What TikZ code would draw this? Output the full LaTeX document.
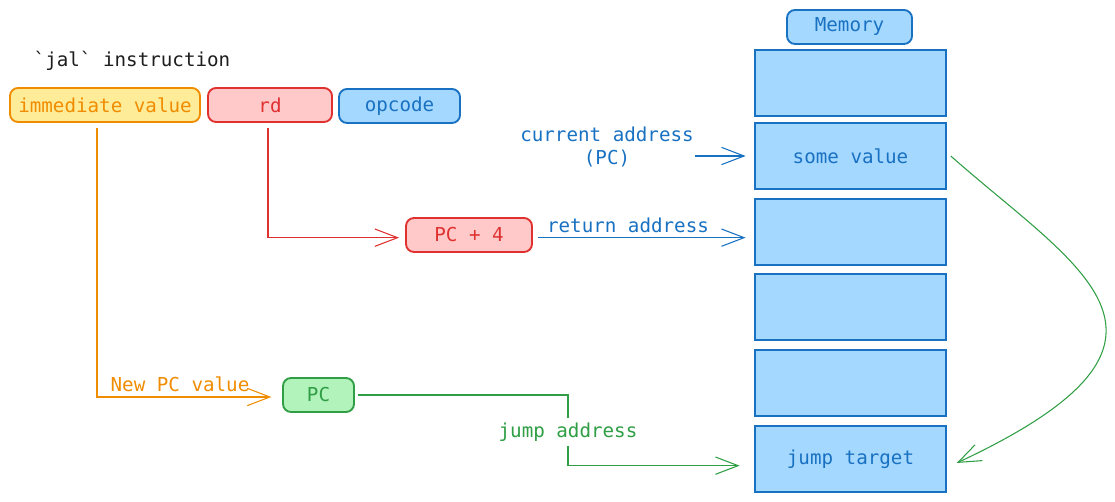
\documentclass[tikz,border=0pt]{standalone}
\usepackage{fontspec}
\setmonofont{DejaVu Sans Mono}
\usepackage{xcolor}
\usetikzlibrary{arrows.meta}

\definecolor{inkblack}{HTML}{1E1E1E}
\definecolor{orangeline}{HTML}{F08C00}
\definecolor{yellowfill}{HTML}{FFEC99}
\definecolor{redline}{HTML}{E03131}
\definecolor{redfill}{HTML}{FFC9C9}
\definecolor{blueline}{HTML}{1971C2}
\definecolor{bluefill}{HTML}{A5D8FF}
\definecolor{greenline}{HTML}{2F9E44}
\definecolor{greenfill}{HTML}{B2F2BB}

\tikzset{
  txt/.style={font=\ttfamily\fontsize{14.4}{17}\selectfont, inner sep=0.75pt, align=center},
  field/.style={txt, draw, rounded corners=6pt, line width=1.4pt, minimum height=25.5pt},
  cell/.style={txt, draw=blueline, fill=bluefill, line width=1.1pt, minimum width=143.25pt, minimum height=49.5pt, text=blueline},
  barb/.style={-{Straight Barb[length=17pt,width=13pt]}, line width=0.8pt},
}

\begin{document}
\begin{tikzpicture}[x=0.75pt,y=0.75pt,yscale=-1,xscale=1]
\useasboundingbox (0,0) rectangle (1115,502);

% Text Node
\node (title) at (132,61) [txt, text=inkblack] {`jal` instruction};

%Shape: Rounded Rect [instruction fields]
\node (imm) at (105,105) [field, draw=orangeline, fill=yellowfill, text=orangeline, minimum width=142.5pt] {immediate value};
\node (rd) at (270,105) [field, draw=redline, fill=redfill, text=redline, minimum width=93pt] {rd};
\node (opcode) at (399.5,106) [field, draw=blueline, fill=bluefill, text=blueline, minimum width=90.75pt] {opcode};

%Shape: Rounded Rect [memory label]
\node (memory) at (849.5,27) [field, draw=blueline, fill=bluefill, text=blueline, minimum width=93.75pt] {Memory};

%Shape: Rectangle [memory cells]
\node (cella) at (850.5,83) [cell] {};
\node (cellb) at (850.5,156) [cell] {some value};
\node (cellc) at (850.5,232) [cell] {};
\node (celld) at (850.5,307) [cell] {};
\node (celle) at (850.5,383) [cell] {};
\node (cellf) at (850.5,459) [cell] {jump target};

%Shape: Rounded Rect [PC + 4 and PC]
\node (pcfour) at (469,235) [field, draw=redline, fill=redfill, text=redline, minimum width=94.5pt] {PC + 4};
\node (pc) at (318.5,395) [field, draw=greenline, fill=greenfill, text=greenline, minimum width=53.25pt] {PC};

% Text Node
\node (newpc) at (180,384) [txt, text=orangeline] {New PC value};
\node (retaddr) at (628,225) [txt, text=blueline] {return address};
\node (curaddr) at (607,147) [txt, text=blueline] {current address\\(PC)};
\node (jumpaddr) at (568,432) [txt, text=greenline, fill=white, inner sep=3pt] {jump address};

%Straight Lines [rd -> PC + 4]
\draw [barb, redline, shorten <=4pt, shorten >=4.5pt] ([xshift=-1.5pt]rd.south) |- ([yshift=2pt]pcfour.west);
%Straight Lines [immediate value -> PC]
\draw [barb, orangeline, shorten <=4pt, shorten >=8pt] ([xshift=-6pt]imm.south) |- ([yshift=1.5pt]pc.west);
%Straight Lines [PC + 4 -> memory]
\draw [barb, blueline, shorten <=4pt, shorten >=6.5pt] ([yshift=2pt]pcfour.east) -- ([yshift=2pt]pcfour.east -| cellc.west);
%Straight Lines [current address -> memory]
\draw [barb, blueline, shorten >=6.5pt] (curaddr.east |- cellb.west) -- (cellb.west);
%Straight Lines [PC -> jump target]
\draw [line width=0.8pt, greenline, shorten <=2pt] (pc.east) -| (jumpaddr.north);
\draw [barb, greenline] (jumpaddr.south) |- ([xshift=-11pt,yshift=5pt]cellf.west);
%Curve Lines [some value -> jump target]
\draw [barb, greenline] ([xshift=3pt]cellb.east) .. controls (1080,270) and (1220,340) .. ([xshift=7.5pt,yshift=3pt]cellf.east);

\end{tikzpicture}
\end{document}
